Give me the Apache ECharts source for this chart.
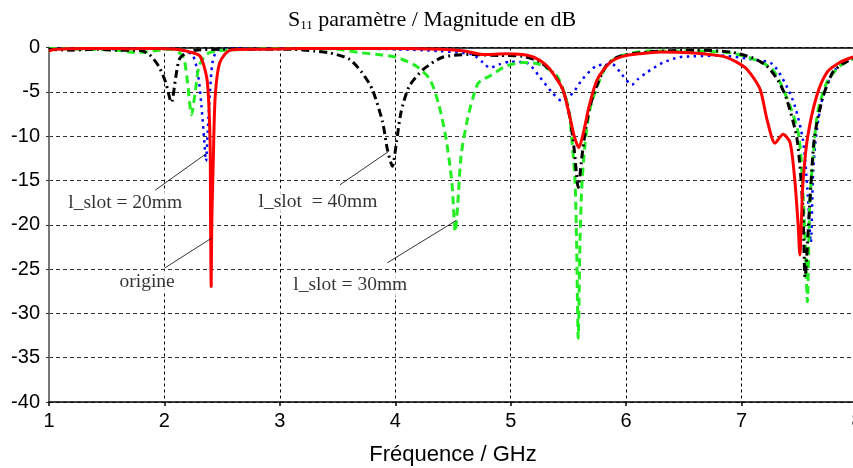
<!DOCTYPE html>
<html><head><meta charset="utf-8">
<script src="https://cdn.jsdelivr.net/npm/echarts@6/dist/echarts.min.js"></script>
<style>
html,body{margin:0;padding:0;background:#fff}#c{width:853px;height:468px}
</style>
</head><body><div id="c"></div>
<script>
// ---- data ----
var xTicks = [1, 2, 3, 4, 5, 6, 7, 8];
var yTicks = [0, -5, -10, -15, -20, -25, -30, -35, -40];

// origine (red, solid)
var freqOrigine = [1.00,1.05,1.15,1.3,1.5,1.7,1.9,2.1,2.22,2.31,2.37,2.395,2.400,2.405,2.41,2.424,2.44,2.48,2.57,2.8,3.2,3.6,4.0,4.4,4.6,4.76,4.96,5.1,5.2,5.3,5.36,5.45,5.51,5.55,5.59,5.63,5.68,5.75,5.86,5.97,6.12,6.3,6.55,6.84,6.95,7.05,7.16,7.22,7.29,7.36,7.42,7.46,7.49,7.505,7.52,7.53,7.57,7.65,7.74,7.85,7.96,8.0];
var s11Origine = [-0.4,-0.2,-0.15,-0.1,-0.1,-0.15,-0.1,-0.2,-0.5,-1.0,-3.7,-10.4,-20,-27.0,-20,-12.3,-5.5,-1.7,-0.3,-0.2,-0.1,-0.1,-0.1,-0.2,-0.4,-0.8,-0.7,-0.8,-1.1,-1.9,-2.8,-4.7,-7.7,-10.0,-11.3,-9.6,-6.6,-3.6,-1.7,-1.0,-0.7,-0.5,-0.6,-1.0,-1.6,-2.5,-4.7,-8.1,-10.8,-9.8,-10.7,-14.8,-20,-23.4,-19,-15.6,-10.3,-5.5,-2.8,-1.7,-1.1,-1.0];

// l_slot = 40mm (black, dash-dot)
var freq40 = [1.0,1.2,1.4,1.6,1.78,1.87,1.95,2.01,2.06,2.10,2.13,2.19,2.27,2.5,2.8,3.1,3.3,3.43,3.6,3.71,3.80,3.89,3.93,3.975,4.01,4.05,4.12,4.24,4.41,4.64,4.9,5.1,5.25,5.36,5.45,5.51,5.55,5.585,5.615,5.64,5.68,5.74,5.83,5.94,6.2,6.6,6.9,7.1,7.22,7.32,7.39,7.48,7.53,7.55,7.59,7.63,7.70,7.79,7.88,8.0];
var s11_40 = [-0.2,-0.3,-0.2,-0.3,-0.3,-0.8,-2.1,-3.9,-6.2,-3.2,-1.3,-0.6,-0.3,-0.2,-0.2,-0.2,-0.4,-0.6,-1.3,-2.8,-4.7,-8.4,-11.4,-13.4,-10.7,-7.3,-4.4,-2.5,-1.1,-0.8,-0.9,-1.0,-1.6,-2.8,-4.7,-7.7,-11.5,-15.8,-12.5,-10,-7.0,-4.5,-2.0,-1.0,-0.5,-0.3,-0.5,-1.2,-2.1,-3.8,-5.8,-10.3,-17.8,-25.9,-17.8,-10.3,-5.8,-2.8,-1.8,-1.0];

// l_slot = 30mm (green, dashed)
var freq30 = [1.0,1.3,1.6,1.75,1.9,2.05,2.13,2.17,2.20,2.235,2.27,2.30,2.36,2.45,2.7,3.0,3.3,3.5,3.71,3.85,4.01,4.18,4.30,4.38,4.44,4.49,4.52,4.54,4.57,4.62,4.67,4.72,4.82,4.96,5.10,5.25,5.40,5.48,5.51,5.556,5.57,5.585,5.60,5.615,5.64,5.68,5.74,5.83,5.94,6.2,6.6,6.9,7.1,7.27,7.42,7.50,7.55,7.57,7.59,7.62,7.66,7.74,7.85,8.0];
var s11_30 = [-0.1,-0.2,-0.3,-0.6,-0.4,-0.2,-0.6,-1.3,-3.9,-7.6,-4.7,-2.1,-0.8,-0.4,-0.2,-0.1,-0.1,-0.2,-0.6,-0.8,-1.1,-2.1,-3.6,-6.6,-10.3,-15.2,-20.8,-17.9,-12.2,-8.4,-5.8,-4.0,-3.2,-2.1,-1.7,-1.9,-3.2,-5.8,-7.7,-14.8,-21.5,-32.8,-22,-15.9,-11.4,-7.3,-4.7,-2.1,-1.0,-0.4,-0.4,-0.6,-1.3,-2.5,-6.6,-10.3,-21.5,-28.7,-17.8,-12.2,-7.3,-3.9,-2.1,-1.1];

// l_slot = 20mm (blue, dotted)
var freq20 = [1.0,1.3,1.6,1.9,2.1,2.24,2.29,2.32,2.345,2.36,2.375,2.395,2.415,2.45,2.5,2.6,3.0,3.5,4.0,4.38,4.67,4.76,4.82,4.9,5.0,5.15,5.25,5.36,5.44,5.54,5.62,5.74,5.88,5.96,6.05,6.10,6.18,6.32,6.46,6.58,6.8,7.07,7.27,7.44,7.53,7.57,7.60,7.62,7.65,7.70,7.79,7.88,8.0];
var s11_20 = [-0.1,-0.1,-0.2,-0.1,-0.2,-0.8,-3.0,-6.5,-10.5,-12.8,-9.5,-5.0,-1.8,-0.4,-0.2,-0.1,-0.1,-0.1,-0.2,-0.4,-0.8,-1.7,-2.3,-1.9,-1.6,-1.8,-3.3,-5.1,-6.0,-5.1,-3.6,-2.1,-1.9,-3.0,-4.2,-3.6,-2.8,-1.7,-1.1,-1.0,-0.9,-1.3,-1.9,-5.8,-10.3,-15.9,-22.0,-14,-9.5,-5.8,-2.8,-1.8,-1.0];

// annotations
var annoText = ['l_slot = 20mm', 'origine', 'l_slot  = 40mm', 'l_slot = 30mm'];
var annoPos = [[1.66, -17.5], [1.85, -26.4], [3.33, -17.4], [3.61, -26.8]];
var leaderStart = [[1.92, -16.1], [2.0, -24.9], [3.52, -15.5], [3.93, -24.3]];
var leaderEnd = [[2.36, -12.0], [2.41, -21.5], [3.94, -11.75], [4.53, -19.5]];

// ---- chart ----
function zip(xs, ys) { return xs.map(function (x, i) { return [x, ys[i]]; }); }
var sans = "'Liberation Sans', Arial, sans-serif";
var serif = "'Liberation Serif', 'DejaVu Serif', serif";

var chart = echarts.init(document.getElementById('c'), null, {renderer: 'canvas'});
chart.setOption({
  animation: false,
  backgroundColor: '#fff',
  title: {
    text: '{s|S}{sub|11}{t| paramètre / Magnitude en dB}',
    left: 283, top: 4,
    textStyle: {
      fontWeight: 'normal',
      rich: {
        s: {fontFamily: serif, fontSize: 22, color: '#000', fontWeight: 'normal'},
        sub: {fontFamily: serif, fontSize: 13, color: '#000', fontWeight: 'normal', verticalAlign: 'bottom', padding: [10, 0, 0, 0]},
        t: {fontFamily: serif, fontSize: 22, color: '#000', fontWeight: 'normal'}
      }
    }
  },
  grid: {left: 49, right: -4, top: 47.5, bottom: 66, containLabel: false, outerBoundsMode: 'none'},
  xAxis: [{
    type: 'value', min: xTicks[0], max: xTicks[xTicks.length - 1], interval: 1,
    position: 'bottom',
    axisLine: {show: true, onZero: false, lineStyle: {color: '#000', width: 1.5}},
    axisTick: {show: true, length: 4, lineStyle: {color: '#000', width: 1.5}},
    axisLabel: {color: '#000', fontFamily: sans, fontSize: 20, margin: 9, hideOverlap: false, showMaxLabel: true},
    splitLine: {show: true, lineStyle: {color: '#000', type: [3, 3], width: 1}},
    name: 'Fréquence / GHz', nameLocation: 'middle', nameGap: 42,
    nameTextStyle: {color: '#000', fontFamily: sans, fontSize: 22}
  }, {
    type: 'value', min: xTicks[0], max: xTicks[xTicks.length - 1], interval: 1,
    position: 'top',
    axisLine: {show: true, onZero: false, lineStyle: {color: '#000', width: 1.5}},
    axisTick: {show: false}, axisLabel: {show: false}, splitLine: {show: false}
  }],
  yAxis: {
    type: 'value', min: yTicks[yTicks.length - 1], max: yTicks[0], interval: 5,
    axisLine: {show: true, onZero: false, lineStyle: {color: '#777', width: 2}},
    axisTick: {show: true, length: 3, lineStyle: {color: '#333', width: 1}},
    axisLabel: {color: '#000', fontFamily: sans, fontSize: 20, margin: 9},
    splitLine: {show: true, lineStyle: {color: '#333', type: [4, 3], width: 1}}
  },
  series: [
    {name: 'l_slot = 20mm', type: 'line', data: zip(freq20, s11_20), showSymbol: false, clip: false, smooth: 0.25,
      lineStyle: {color: '#0000ff', width: 2.5, type: [2.5, 4.5]}, z: 2},
    {name: 'l_slot = 30mm', type: 'line', data: zip(freq30, s11_30), showSymbol: false, clip: false, smooth: 0.25,
      lineStyle: {color: '#22ee22', width: 3, type: [8, 5]}, z: 3},
    {name: 'l_slot = 40mm', type: 'line', data: zip(freq40, s11_40), showSymbol: false, clip: false, smooth: 0.25,
      lineStyle: {color: '#000', width: 3, type: [8, 4, 2, 4]}, z: 4},
    {name: 'origine', type: 'line', data: zip(freqOrigine, s11Origine), showSymbol: false, clip: false, smooth: 0.25,
      lineStyle: {color: '#ff0000', width: 3}, z: 5},
    {type: 'lines', coordinateSystem: 'cartesian2d', silent: true, z: 6,
      data: leaderStart.map(function (p, i) { return {coords: [p, leaderEnd[i]]}; }),
      lineStyle: {color: '#000', width: 0.8, opacity: 1}},
    {type: 'scatter', silent: true, z: 7, symbolSize: 0,
      data: annoPos.map(function (p, i) { return {value: p, name: annoText[i]}; }),
      label: {show: true, position: 'inside', formatter: '{b}', color: '#000',
        fontFamily: serif, fontSize: 19.5, backgroundColor: '#fff', padding: [1, 2]}}
  ]
});
</script></body></html>
